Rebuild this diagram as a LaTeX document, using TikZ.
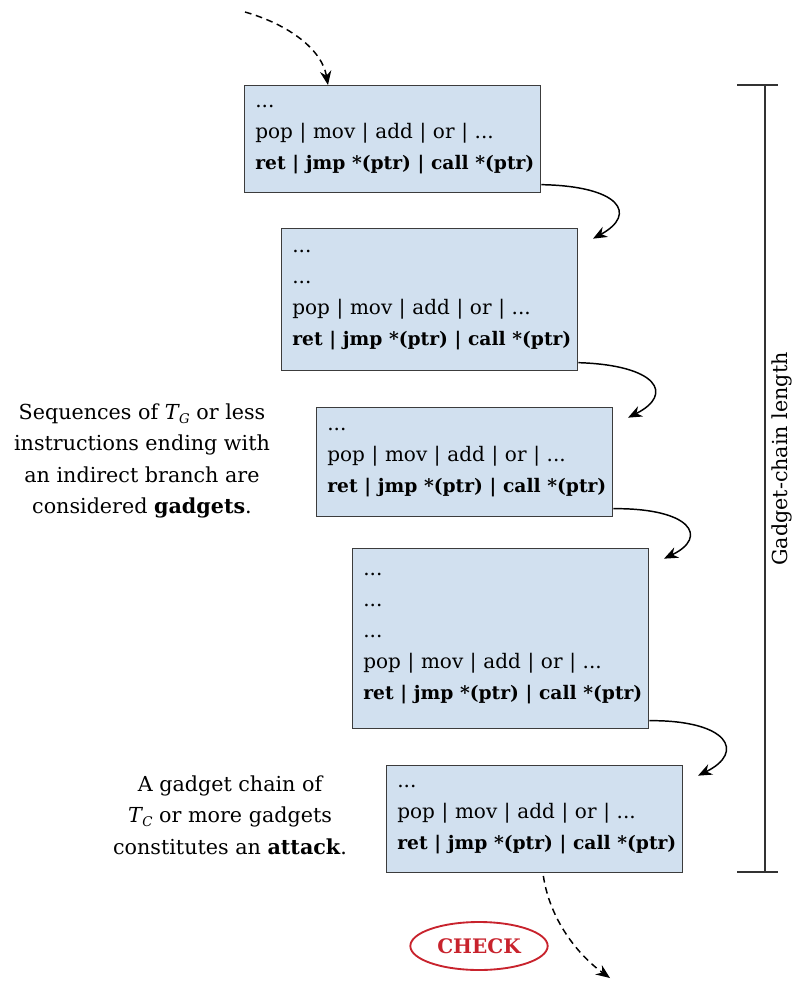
\documentclass[tikz,border=0pt]{standalone}
\usepackage{fontspec}
\setmainfont{DejaVu Serif}
\usetikzlibrary{arrows.meta,shapes.geometric}
\definecolor{boxfill}{RGB}{209,224,239}
\definecolor{boxline}{RGB}{60,60,60}
\definecolor{checkred}{RGB}{200,35,45}
\newcommand{\subT}[1]{\textit{T}\kern-0.5pt\raisebox{-0.35ex}{\fontsize{10}{10}\selectfont\textit{#1}}}
\newcommand{\retline}{\mbox{\fontsize{14}{23.25}\selectfont\textbf{ret | jmp *(ptr) | call *(ptr)}}}
\begin{document}
\begin{tikzpicture}[x=0.75pt,y=-0.75pt,
  gbox/.style={draw=boxline,fill=boxfill,line width=1pt,minimum width=222pt,
    text width=206pt,align=left,inner xsep=8pt,anchor=north west,
    font=\fontsize{15}{23.25}\selectfont},
  flow/.style={line width=1.1pt,-{Stealth[length=10.5pt,width=8.5pt]}},
  dflow/.style={flow,dash pattern=on 5pt off 3.5pt},
  note/.style={align=center,font=\fontsize{15.5}{23.6}\selectfont},
  bar/.style={line width=0.8pt,draw=black!80}]
\useasboundingbox (0,0) rectangle (793,981);

\node[gbox,minimum height=80.25pt] (b1) at (244,85)
  {...\\pop | mov | add | or | ...\\\retline};
\node[gbox,minimum height=106.5pt] (b2) at (281,228)
  {...\\...\\pop | mov | add | or | ...\\\retline};
\node[gbox,minimum height=81.75pt] (b3) at (316,407)
  {...\\pop | mov | add | or | ...\\\retline};
\node[gbox,minimum height=135pt] (b4) at (352,548)
  {...\\...\\...\\pop | mov | add | or | ...\\\retline};
\node[gbox,minimum height=80.25pt] (b5) at (386,765)
  {...\\pop | mov | add | or | ...\\\retline};

% connectors
\coordinate (s0) at (245,12);
\draw[dflow] (s0) .. controls (290,25) and (322,50) .. ([xshift=63pt]b1.north west);

\draw[flow] ([yshift=6.5pt]b1.south east) .. controls (620,186) and (638,214) .. ([xshift=11pt,yshift=-8pt]b2.north east);
\draw[flow] ([yshift=6.5pt]b2.south east) .. controls (657,365) and (675,394) .. ([xshift=11pt,yshift=-8pt]b3.north east);
\draw[flow] ([yshift=6.5pt]b3.south east) .. controls (691,508) and (709,537) .. ([xshift=11pt,yshift=-8pt]b4.north east);
\draw[flow] ([yshift=6.5pt]b4.south east) .. controls (728,720) and (746,752) .. ([xshift=11pt,yshift=-8pt]b5.north east);

\coordinate (e0) at (610,978);
\draw[dflow] ([xshift=118pt,yshift=-2pt]b5.south west) .. controls (550,920) and (578,955) .. (e0);

\node[draw=checkred,line width=1.4pt,ellipse,minimum width=103pt,minimum height=36pt,inner sep=0pt,
  text=checkred,font=\fontsize{15}{15}\selectfont\bfseries] (chk) at (479,946) {CHECK};

% scale bar
\draw[bar] (737,85) -- (778,85);
\draw[bar] (737,872) -- (778,872);
\draw[bar] (765,85) -- (765,872);
\node[rotate=90,font=\fontsize{15.5}{16}\selectfont] (lbl) at (782,459) {Gadget-chain length};

% notes
\node[note] (n1) at (142,461) {Sequences of \subT{G} or less\\instructions ending with\\an indirect branch are\\considered \textbf{gadgets}.};
\node[note] (n2) at (230,815) {A gadget chain of\\\subT{C} or more gadgets\\constitutes an \textbf{attack}.};
\end{tikzpicture}
\end{document}
